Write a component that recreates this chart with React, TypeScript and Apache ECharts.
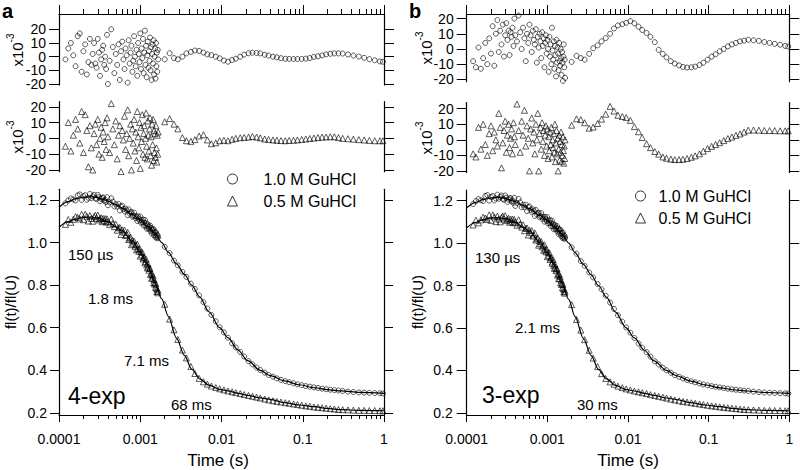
import React, { useEffect, useRef } from "react";
import * as echarts from "echarts";

const FONT = '"Liberation Sans", Arial, Helvetica, sans-serif';

// ---------- time grids (s) ----------
const tDense = [
  0.00012, 0.00013, 0.00014, 0.00015, 0.00016, 0.00017, 0.00018, 0.00019, 0.0002, 0.00021,
  0.00022, 0.00023, 0.00024, 0.00025, 0.00026, 0.00027, 0.00028, 0.00029, 0.0003, 0.00031,
  0.00032, 0.00033, 0.00034, 0.00035, 0.00036, 0.00037, 0.00038, 0.00039, 0.0004,
  0.00042, 0.00044, 0.00046, 0.00048, 0.0005, 0.00052, 0.00054, 0.00056, 0.00058, 0.0006,
  0.00062, 0.00064, 0.00066, 0.00068, 0.0007, 0.00072, 0.00074, 0.00076, 0.00078, 0.0008,
  0.00082, 0.00084, 0.00086, 0.00088, 0.0009, 0.00092, 0.00094, 0.00096, 0.00098, 0.001,
  0.00102, 0.00104, 0.00106, 0.00108, 0.0011, 0.00112, 0.00114, 0.00116, 0.00118, 0.0012,
  0.00122, 0.00124, 0.00126, 0.00128, 0.0013, 0.00132, 0.00134, 0.00136, 0.00138, 0.0014,
  0.00142, 0.00144, 0.00146, 0.00148, 0.0015, 0.00152, 0.00154, 0.00156, 0.00158, 0.0016,
  0.00162, 0.00164, 0.00166,
];
const tSparse = [
  0.002, 0.0023, 0.0026, 0.0029, 0.0033, 0.0037, 0.0042, 0.0047, 0.0053, 0.006,
  0.0067, 0.0075, 0.0085, 0.0095, 0.0107, 0.012, 0.0135, 0.015, 0.017, 0.019,
  0.0215, 0.024, 0.027, 0.03, 0.034, 0.038, 0.043, 0.048, 0.054, 0.061,
  0.068, 0.077, 0.086, 0.097, 0.109, 0.122, 0.137, 0.154, 0.173, 0.194,
  0.218, 0.245, 0.275, 0.31, 0.36, 0.42, 0.49, 0.57, 0.66, 0.77,
  0.89, 0.97,
];

// ---------- fl(t)/fl(U) data ----------
const gu10Dense = [
  1.184, 1.198, 1.207, 1.202, 1.198, 1.222, 1.226, 1.2, 1.217, 1.222,
  1.201, 1.21, 1.228, 1.209, 1.217, 1.224, 1.208, 1.204, 1.224, 1.213,
  1.194, 1.205, 1.21, 1.212, 1.196, 1.2, 1.19, 1.213, 1.175,
  1.189, 1.208, 1.192, 1.169, 1.18, 1.169, 1.181, 1.151, 1.169, 1.173,
  1.157, 1.147, 1.159, 1.151, 1.128, 1.156, 1.136, 1.141, 1.143, 1.121,
  1.126, 1.141, 1.124, 1.114, 1.123, 1.101, 1.123, 1.112, 1.104, 1.122,
  1.093, 1.106, 1.096, 1.108, 1.08, 1.093, 1.106, 1.079, 1.09, 1.065,
  1.079, 1.086, 1.065, 1.074, 1.065, 1.08, 1.054, 1.068, 1.042, 1.059,
  1.064, 1.047, 1.062, 1.034, 1.045, 1.049, 1.024, 1.048, 1.028, 1.036,
  1.02, 1.033, 1.024,
];
const gu10Sparse = [
  0.98, 0.95, 0.915, 0.893, 0.862, 0.838, 0.807, 0.782, 0.752, 0.72,
  0.69, 0.66, 0.63, 0.602, 0.578, 0.553, 0.527, 0.507, 0.486, 0.465,
  0.443, 0.428, 0.413, 0.401, 0.389, 0.378, 0.37, 0.362, 0.355, 0.349,
  0.344, 0.339, 0.334, 0.33, 0.326, 0.323, 0.32, 0.317, 0.314, 0.311,
  0.309, 0.307, 0.305, 0.303, 0.3, 0.298, 0.296, 0.295, 0.294, 0.293,
  0.292, 0.291,
];
const gu05Dense = [
  1.085, 1.108, 1.095, 1.109, 1.122, 1.118, 1.111, 1.133, 1.107, 1.133,
  1.123, 1.101, 1.127, 1.113, 1.1, 1.122, 1.128, 1.114, 1.129, 1.106,
  1.112, 1.117, 1.098, 1.113, 1.103, 1.113, 1.096, 1.111, 1.098,
  1.084, 1.11, 1.09, 1.075, 1.086, 1.058, 1.069, 1.071, 1.038, 1.06,
  1.049, 1.059, 1.033, 1.038, 1.048, 1.014, 1.02, 1.024, 0.99, 1.011,
  0.997, 1.007, 0.982, 0.989, 0.966, 0.992, 0.971, 0.959, 0.97, 0.936,
  0.957, 0.942, 0.954, 0.923, 0.931, 0.93, 0.905, 0.911, 0.922, 0.895,
  0.881, 0.9, 0.885, 0.87, 0.878, 0.879, 0.849, 0.856, 0.832, 0.852,
  0.833, 0.843, 0.812, 0.825, 0.805, 0.811, 0.79, 0.805, 0.785, 0.77,
  0.781, 0.764, 0.772,
];
const gu05Sparse = [
  0.71, 0.64, 0.59, 0.545, 0.495, 0.458, 0.418, 0.385, 0.362, 0.346,
  0.335, 0.326, 0.319, 0.313, 0.308, 0.303, 0.299, 0.295, 0.291, 0.286,
  0.282, 0.278, 0.274, 0.27, 0.265, 0.261, 0.257, 0.254, 0.251, 0.248,
  0.245, 0.242, 0.239, 0.236, 0.233, 0.231, 0.228, 0.226, 0.224, 0.222,
  0.22, 0.218, 0.216, 0.215, 0.214, 0.213, 0.212, 0.212, 0.211, 0.211,
  0.21, 0.21,
];

// ---------- fitted curves ----------
const tFit = [
  0.0001, 0.00013, 0.00016, 0.0002, 0.00025, 0.0003, 0.0004, 0.0005, 0.0006, 0.0008,
  0.001, 0.0012, 0.0015, 0.00184, 0.0022, 0.0028, 0.0035, 0.0043, 0.0054, 0.007,
  0.0095, 0.012, 0.016, 0.021, 0.03, 0.04, 0.06, 0.09, 0.14, 0.2,
  0.3, 0.5, 1,
];
const fit10 = [
  1.166, 1.192, 1.205, 1.213, 1.215, 1.211, 1.195, 1.178, 1.162, 1.132,
  1.105, 1.08, 1.045, 1.0, 0.955, 0.9, 0.85, 0.8, 0.745, 0.675,
  0.6, 0.553, 0.495, 0.445, 0.4, 0.375, 0.35, 0.332, 0.318, 0.309,
  0.303, 0.296, 0.292,
];
const fit05 = [
  1.072, 1.098, 1.11, 1.118, 1.12, 1.115, 1.097, 1.075, 1.055, 1.005,
  0.955, 0.9, 0.814, 0.735, 0.655, 0.55, 0.47, 0.405, 0.36, 0.33,
  0.31, 0.303, 0.292, 0.282, 0.27, 0.263, 0.248, 0.237, 0.229, 0.221,
  0.215, 0.212, 0.21,
];

// ---------- residuals (x10^-3) ----------
const resA10Dense = [
  -2, 6, 10, 1, -7, 15, 17, -11, 4, 9, -13, -4, 13, -6, 2, 10, -5, -8, 13, 3,
  -14, -2, 5, 8, -6, 0, -9, 16, -20,
  -3, 20, 7, -12, 2, -6, 9, -17, 4, 11, -2, -9, 6, 1, -19, 12, -5, 3, 8, -11,
  -3, 15, 0, -7, 5, -14, 10, 2, -4, 17, -9, 6, -1, 13, -12, 3, 19, -6, 8, -15,
  1, 11, -8, 4, -3, 14, -10, 7, -17, 2, 9, -5, 12, -13, 0, 6, -16, 10, -7, 3,
  -11, 5, -2,
];
const resA10Sparse = [
  -1.9, 2.5, -1, -1.9, 0, 2.4, 3.5, 4.5, 4.2, 3,
  1.7, 1.2, 0, -1.2, -2.8, -3.7, -2.4, -1.5, 0, 1.5,
  2.5, 2.9, 2.7, 2.4, 1.4, 0.8, 0, -0.5, -1.1, -1.5,
  -1.6, -1.7, -1.7, -1.6, -1.4, -1, -0.2, 0.3, 0.9, 1.7,
  2.1, 2.4, 2.4, 2.3, 1.6, 0.8, 0.1, -0.8, -1.8, -2.6,
  -3.5, -3.7,
];
const resA05Dense = [
  -5, 10, -8, 2, 12, 6, -3, 17, -9, 15, 5, -18, 8, -6, -20, 3, 9, -4, 12, -10,
  0, 7, -12, 4, -2, 10, -7, 13, 1,
  -9, 22, 6, -4, 11, -13, 2, 8, -21, 5, -1, 14, -7, 3, 18, -11, 0, 9, -20, 6,
  -3, 12, -8, 4, -14, 17, 1, -6, 10, -19, 7, -2, 15, -10, 3, 8, -12, 0, 16, -5,
  -13, 11, 2, -8, 6, 13, -11, 1, -17, 9, -4, 12, -14, 5, -9, 3, -12, 8, -6, -15,
  2, -10, 4,
];
const resA05Sparse = [
  10.5, 12.5, 9, 6, 0.5, -1.5, -1.9, -0.8, 1.5, 2.3,
  -1, -3.4, -2.8, -1.5, -1.2, -1.5, -0.6, 0, 0.4, 0.6,
  0.8, 1.2, 0.8, 0.3, -0.4, -0.7, -1, -1.2, -1.4, -1.5,
  -1.3, -1.2, -1, -0.7, -0.4, -0.1, 0.2, 0.5, 0.8, 0.9,
  1, 1, 0.5, 0, -0.2, -0.5, -0.8, -1, -1.3, -1.5,
  -1.5, -1.5,
];
const resB10Dense = [
  -8, -12, 1, -13, -6, 4, -10, 7, -3, 15, -11, 10, 19, -2, 12, 3, 16, -5, 9, 17,
  6, 12, -4, 11, 8, 14, 2, 20, 9,
  5, 22, 11, 0, 14, 7, -8, 10, 4, 16, 9, -2, 12, 6, 3, 13, -9, 8, 1, 10,
  5, -6, 11, 2, 7, -12, 4, 9, -3, 6, 0, -15, 8, -5, 3, -10, 14, -1, -7, 5,
  -13, 2, -4, -18, 6, -9, 1, -3, -14, 4, -8, -11, 0, -6, -17, -2, -9, -21, -5, 3,
  -12, -7, -19,
];
const resB10Sparse = [
  -8.5, -4.5, -6, -7, -3.2, 0.5, 2.4, 5, 7.2, 10,
  13.5, 15.5, 16.3, 17.2, 18.3, 16.9, 14.7, 12.5, 10.5, 8,
  4.5, -0.6, -3.2, -5.5, -8, -9.6, -10.8, -11.8, -12.2, -12,
  -11.6, -10.5, -9, -7, -5, -3.5, -1.5, 0, 1.7, 3,
  4, 5, 5.5, 6, 5.7, 5.3, 4.6, 4, 3.4, 2.8,
  2, 1.6,
];
const resB05Dense = [
  -9, -11, 8, -6, 10, -3, -10, 4, 9, -7, 5, 0, -4, 17, 8, -18, -2, 6, 12, -8,
  3, 10, -5, 1, 7, -9, 11, 2, -3,
  23, 6, -8, 12, 3, 19, -4, 9, 1, -20, 7, 14, -2, 5, -9, 10, 0, 17, -20, 4,
  8, -6, 11, -1, 6, -10, 3, 9, -4, 7, -12, 2, -7, 5, -3, 8, -11, 0, -5, 4,
  -8, 10, -14, -2, 6, -9, 1, -20, -6, 3, -13, -1, -8, 5, -14, -3, -10, 2, -7, -15,
  -4, -12, 0,
];
const resB05Sparse = [
  9.4, 13.5, 13, 11, 7.5, 8.2, 10.5, 13.3, 16.5, 21.5,
  18.5, 15.8, 15, 14.3, 12.5, 8.5, 5.2, 1.5, -2.5, -5,
  -7.5, -9.2, -11, -11.8, -12.4, -12.7, -12.7, -12.5, -12, -11.2,
  -10.3, -9, -7.3, -5.6, -4.2, -3, -1.8, -0.5, 0.8, 1.8,
  2.9, 3.8, 5, 6.2, 6.3, 6.2, 6, 6, 5.9, 5.8,
  5.8, 5.8,
];

// ---------- ticks / labels ----------
const xTickLabels = ["0.0001", "0.001", "0.01", "0.1", "1"];
const xDecades = [0.0001, 0.001, 0.01, 0.1, 1];
const minorMultipliers = [2, 3, 4, 5, 6, 7, 8, 9];
const mainYTicks = [0.2, 0.4, 0.6, 0.8, 1.0, 1.2];
const resYTicks = [-20, -10, 0, 10, 20];
const resYLabelsA = [-20, 0, 20];
const resYLabelsB = [-10, 10];
const seriesNames = ["1.0 M GuHCl", "0.5 M GuHCl"];
const tauLabelsA = ["150 \u00b5s", "1.8 ms", "7.1 ms", "68 ms"];
const tauLabelsB = ["130 \u00b5s", "2.1 ms", "30 ms"];
const modelLabels = ["4-exp", "3-exp"];

const lg = (t: number) => Math.log10(t);
const majorX = xDecades.map(lg);
const minorX: number[] = [];
xDecades.slice(0, 4).forEach((d) => minorMultipliers.forEach((m) => minorX.push(lg(d * m))));
const allX = majorX.concat(minorX);

const tAll = tDense.concat(tSparse);
const toXY = (ts: number[], vs: number[]) => ts.map((t, i) => [lg(t), vs[i]]);

const BLACK = "#000";

function buildOption() {
  const panels = [
    {
      left: 59, width: 325, yTick: 9, yMargin: 12, resTick: 10, resMargin: 13,
      res1: { top: 14, height: 71, min: -20.7, max: 31.2 },
      res2: { top: 101.7, height: 70, min: -21.1, max: 23.2 },
      main: { top: 189.3, height: 225.7 },
      res10: resA10Dense.concat(resA10Sparse),
      res05: resA05Dense.concat(resA05Sparse),
    },
    {
      left: 466.7, width: 322.6, yTick: 10, yMargin: 14, resTick: 10, resMargin: 13,
      res1: { top: 14, height: 67.7, min: -21.5, max: 23 },
      res2: { top: 102.5, height: 70, min: -21, max: 24 },
      main: { top: 190, height: 225 },
      res10: resB10Dense.concat(resB10Sparse),
      res05: resB05Dense.concat(resB05Sparse),
    },
  ];

  const grid: any[] = [];
  const xAxis: any[] = [];
  const yAxis: any[] = [];
  const series: any[] = [];

  const main10 = toXY(tAll, gu10Dense.concat(gu10Sparse));
  const main05 = toXY(tAll, gu05Dense.concat(gu05Sparse));
  const fit10Data = toXY(tFit, fit10);
  const fit05Data = toXY(tFit, fit05);

  const mkX = (gridIndex: number, position: string, line: boolean, ticks: number[] | null, len: number, labels: boolean) => ({
    type: "value",
    gridIndex,
    position,
    min: -4,
    max: 0,
    show: true,
    axisLine: { show: line, onZero: false, lineStyle: { color: BLACK, width: 1.2 } },
    axisTick: ticks
      ? { show: true, inside: false, length: len, customValues: ticks, lineStyle: { color: BLACK, width: 1 } }
      : { show: false },
    axisLabel: labels
      ? {
          show: true,
          customValues: majorX,
          margin: 17,
          fontSize: 14,
          fontFamily: FONT,
          color: BLACK,
          formatter: (v: number) => xTickLabels[Math.round(v) + 4],
        }
      : { show: false },
    splitLine: { show: false },
  });
  const hiddenX = (gridIndex: number) => ({ type: "value", gridIndex, min: -4, max: 0, show: false });

  const mkY = (
    gridIndex: number, position: string, min: number, max: number,
    ticks: number[] | null, len: number, margin: number, labels: number[] | null,
    line: boolean, fmt?: (v: number) => string
  ) => ({
    type: "value",
    gridIndex,
    position,
    min,
    max,
    axisLine: { show: line, onZero: false, lineStyle: { color: BLACK, width: 1.2 } },
    axisTick: ticks
      ? { show: true, inside: false, length: len, customValues: ticks, lineStyle: { color: BLACK, width: 1 } }
      : { show: false },
    axisLabel: labels
      ? {
          show: true, customValues: labels, margin, fontSize: 14, lineHeight: 12,
          fontFamily: FONT, color: BLACK, formatter: fmt,
        }
      : { show: false },
    splitLine: { show: false },
  });

  const symStyle = { color: "transparent", borderColor: BLACK, borderWidth: 0.8 };

  panels.forEach((p) => {
    const g0 = grid.length;
    grid.push({ left: p.left, width: p.width, top: p.res1.top, height: p.res1.height, containLabel: false, outerBoundsMode: "none" });
    grid.push({ left: p.left, width: p.width, top: p.res2.top, height: p.res2.height, containLabel: false, outerBoundsMode: "none" });
    grid.push({ left: p.left, width: p.width, top: p.main.top, height: p.main.height, containLabel: false, outerBoundsMode: "none" });

    const xr1 = xAxis.length;
    xAxis.push(mkX(g0, "top", true, allX, 5, false));
    xAxis.push(mkX(g0, "top", false, majorX, 9, false));
    const xr2 = xAxis.length;
    xAxis.push(hiddenX(g0 + 1));
    const xm = xAxis.length;
    xAxis.push(mkX(g0 + 2, "bottom", true, allX, 4, true));
    xAxis.push(mkX(g0 + 2, "bottom", false, majorX, 7, false));

    const resAxes = (gi: number, r: { min: number; max: number }) => {
      const idx = yAxis.length;
      yAxis.push(mkY(gi, "left", r.min, r.max, resYTicks, p.resTick, p.resMargin, resYLabelsA, true));
      yAxis.push(mkY(gi, "left", r.min, r.max, null, p.resTick, p.resMargin, resYLabelsB, false));
      yAxis.push(mkY(gi, "right", r.min, r.max, resYTicks, p.resTick, p.resMargin, null, true));
      return idx;
    };
    const yr1 = resAxes(g0, p.res1);
    const yr2 = resAxes(g0 + 1, p.res2);
    const ym = yAxis.length;
    yAxis.push(mkY(g0 + 2, "left", 0.19, 1.25, mainYTicks, p.yTick, p.yMargin, mainYTicks, true, (v: number) => v.toFixed(1)));
    yAxis.push(mkY(g0 + 2, "right", 0.19, 1.25, mainYTicks, p.yTick, p.yMargin, null, true));

    series.push({
      type: "scatter", name: seriesNames[0], xAxisIndex: xr1, yAxisIndex: yr1,
      symbol: "circle", symbolSize: 5, itemStyle: symStyle, data: toXY(tAll, p.res10), silent: true, z: 2,
    });
    series.push({
      type: "scatter", name: seriesNames[1], xAxisIndex: xr2, yAxisIndex: yr2,
      symbol: "triangle", symbolSize: 6, itemStyle: symStyle, data: toXY(tAll, p.res05), silent: true, z: 2,
    });
    series.push({
      type: "scatter", name: seriesNames[0], xAxisIndex: xm, yAxisIndex: ym,
      symbol: "circle", symbolSize: 5, itemStyle: symStyle, data: main10, silent: true, z: 2,
    });
    series.push({
      type: "scatter", name: seriesNames[1], xAxisIndex: xm, yAxisIndex: ym,
      symbol: "triangle", symbolSize: 6, itemStyle: symStyle, data: main05, silent: true, z: 2,
    });
    [fit10Data, fit05Data].forEach((d, k) => {
      series.push({
        type: "line", name: "fit " + k, xAxisIndex: xm, yAxisIndex: ym, data: d,
        showSymbol: false, symbol: "none", smooth: 0.3, smoothMonotone: "x",
        lineStyle: { color: BLACK, width: 1.2 }, itemStyle: { color: BLACK }, silent: true, z: 3,
      });
    });
  });

  const legendItem = (name: string, icon: string) => ({
    name, icon, itemStyle: { color: "transparent", borderColor: BLACK, borderWidth: 1 },
  });
  const mkLegend = (left: number, top: number, textPad: number) => ({
    left, top, padding: 0, orient: "vertical", itemWidth: 10, itemHeight: 10, itemGap: 6,
    selectedMode: false, symbolKeepAspect: true,
    textStyle: { fontSize: 16, fontFamily: FONT, color: BLACK, padding: [0, 0, 0, textPad] },
    data: [legendItem(seriesNames[0], "circle"), legendItem(seriesNames[1], "triangle")],
  });
  const legend = [mkLegend(227, 171, 21), mkLegend(635, 188, 8)];

  const txt = (text: string, x: number, y: number, size: number, extra: any = {}) => ({
    type: "text", x, y, silent: true,
    style: { text, fontSize: size, fontFamily: FONT, fill: BLACK, align: "left", verticalAlign: "middle", ...extra },
  });
  const rot = (text: string, x: number, y: number) => ({
    type: "text", x, y, rotation: Math.PI / 2, silent: true,
    style: { text, fontSize: 15, fontFamily: FONT, fill: BLACK, align: "center", verticalAlign: "middle" },
  });
  const expo = (x: number, y: number) => ({
    type: "text", x, y, rotation: Math.PI / 2, silent: true,
    style: {
      text: "{a|x10}{b|-3}", align: "center", verticalAlign: "middle", fontFamily: FONT, fill: BLACK,
      rich: {
        a: { fontSize: 15, lineHeight: 20, verticalAlign: "bottom", fontFamily: FONT, fill: BLACK },
        b: { fontSize: 10, lineHeight: 10, verticalAlign: "top", fontFamily: FONT, fill: BLACK },
      },
    },
  });

  const graphic = [
    txt("a", 2, 1, 20, { fontWeight: "bold", verticalAlign: "top", lineHeight: 20 }),
    txt("b", 409, 1, 20, { fontWeight: "bold", verticalAlign: "top", lineHeight: 20 }),
    expo(15, 50),
    expo(15, 137),
    expo(424, 48),
    expo(424, 138),
    rot("fl(t)/fl(U)", 10, 302),
    rot("fl(t)/fl(U)", 417, 302),
    txt("Time (s)", 218, 460, 17, { align: "center" }),
    txt("Time (s)", 628, 460, 17, { align: "center" }),
    txt(tauLabelsA[0], 68, 254, 15),
    txt(tauLabelsA[1], 88, 298, 15),
    txt(tauLabelsA[2], 124, 360, 15),
    txt(tauLabelsA[3], 171, 404, 15),
    txt(modelLabels[0], 68, 396, 23),
    txt(tauLabelsB[0], 475, 257, 15),
    txt(tauLabelsB[1], 515, 327, 15),
    txt(tauLabelsB[2], 577, 404, 15),
    txt(modelLabels[1], 482, 395, 23),
  ];

  return {
    animation: false,
    backgroundColor: "#fff",
    textStyle: { fontFamily: FONT },
    grid,
    xAxis,
    yAxis,
    series,
    legend,
    graphic,
  };
}

export default function App() {
  const ref = useRef<HTMLDivElement>(null);
  useEffect(() => {
    if (!ref.current) return;
    const chart = echarts.init(ref.current, null, { renderer: "svg" });
    chart.setOption(buildOption() as any);
    return () => chart.dispose();
  }, []);
  return (
    <div
      ref={ref}
      style={{ position: "absolute", left: 0, top: 0, width: 800, height: 470, background: "#fff" }}
    />
  );
}
